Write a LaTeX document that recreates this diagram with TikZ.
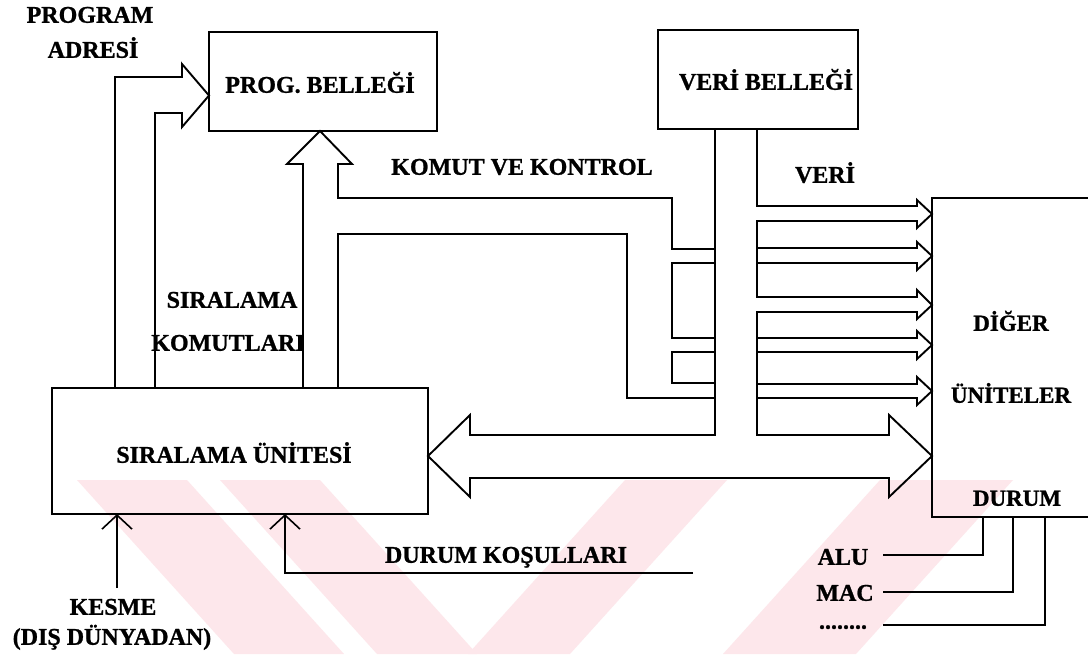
\documentclass[tikz,border=0pt]{standalone}
\usepackage{fontspec}
\setmainfont{Liberation Serif}[BoldFeatures={FakeBold=1}]
\usetikzlibrary{arrows.meta}
\definecolor{wm}{RGB}{253,231,235}
\begin{document}
\begin{tikzpicture}[x=1pt,y=-1pt,line width=1.9pt,line join=miter,
  lbl/.style={font=\bfseries\fontsize{24}{27}\selectfont,inner sep=0pt,text height=15.5pt,text depth=0pt},
  lbs/.style={lbl,font=\bfseries\fontsize{23}{26}\selectfont},
  box/.style={draw,line width=1.9pt,inner sep=0pt},
  barb/.style={-{Straight Barb[length=14pt,width=30pt,line width=1.6pt]}}]
\clip (0,0) rectangle (1088,654);
\fill[white] (0,0) rectangle (1088,654);
% watermark
\fill[wm] (77,480) -- (187,480) -- (344,654) -- (234,654) -- cycle;
\fill[wm] (220,480) -- (320,480) -- (477,654) -- (377,654) -- cycle;
\fill[wm] (625,480) -- (727,480) -- (570,654) -- (468,654) -- cycle;
\fill[wm] (880,480) -- (1013,480) -- (856,654) -- (723,654) -- cycle;
% boxes
\node[box,minimum width=228pt,minimum height=99pt] (prog) at (323,81.5) {};
\node[lbl] (progt) at (320,85) {PROG. BELLEĞİ};
\node[box,minimum width=200pt,minimum height=99pt] (veri) at (758,79.5) {};
\node[lbl] (verit) at (766,82) {VERİ BELLEĞİ};
\node[box,minimum width=376pt,minimum height=126pt] (sira) at (240,451) {};
\node[lbl] (sirat) at (234,455) {SIRALAMA ÜNİTESİ};
\node[box,minimum width=170pt,minimum height=319pt] (diger) at (1017,357.5) {};
\node[lbs] (digert) at (1011,323) {DİĞER};
\node[lbs] (unit) at (1011,395) {ÜNİTELER};
\node[lbs] (durum) at (1017,498) {DURUM};
% labels
\node[lbl] (pa1) at (90,15) {PROGRAM};
\node[lbl] (pa2) at (93,50) {ADRESİ};
\node[lbl] (kk) at (522,167) {KOMUT VE KONTROL};
\node[lbl] (vl) at (825,175) {VERİ};
\node[lbl] (sk1) at (232,300) {SIRALAMA};
\node[lbl] (sk2) at (228,343) {KOMUTLARI};
\node[lbl] (dk) at (506,555) {DURUM KOŞULLARI};
\node[lbl] (k1) at (113,607) {KESME};
\node[lbl] (k2) at (112,637) {(DIŞ DÜNYADAN)};
\node[lbl] (alu) at (843,557) {ALU};
\node[lbl] (mac) at (845,593) {MAC};
\node[lbl] (dots) at (843,621) {........};
% program address arrow
\draw (115,388) -- (115,77) -- (182,77) -- (182,64) -- (209,95.5) -- (182,127) -- (182,113) -- (155,113) -- (155,388);
% sequencing commands arrow into program memory
\draw (303,388) -- (303,164) -- (287,164) -- (320,131) -- (352,164) -- (338,164) -- (338,198) -- (672,198) -- (672,249) -- (715,249);
\draw (338,388) -- (338,234) -- (627,234) -- (627,398) -- (715,398);
\draw (715,263) -- (672,263) -- (672,338) -- (715,338);
\draw (715,352) -- (672,352) -- (672,383) -- (715,383);
% data bus
\draw (715,130) -- (715,435) -- (470,435) -- (470,415) -- (428,456) -- (470,497) -- (470,478)
  -- (889,478) -- (889,497) -- (932,456) -- (889,415) -- (889,435) -- (757,435) -- (757,312)
  -- (917,312) -- (917,319) -- (932,305) -- (917,290) -- (917,297) -- (757,297) -- (757,221)
  -- (917,221) -- (917,228) -- (932,214) -- (917,200) -- (917,206) -- (757,206) -- (757,130);
\draw (757,248) -- (917,248) -- (917,242) -- (932,256) -- (917,270) -- (917,263) -- (757,263);
\draw (757,338) -- (917,338) -- (917,331) -- (932,345) -- (917,359) -- (917,352) -- (757,352);
\draw (757,384) -- (917,384) -- (917,377) -- (932,391) -- (917,405) -- (917,398) -- (757,398);
% interrupt and status
\draw[barb] (117,588) -- (117,514);
\draw[barb] (693,573) -- (285,573) -- (285,514);
\draw (883,555) -- (983,555) -- (983,517);
\draw (883,592) -- (1013,592) -- (1013,517);
\draw (883,625) -- (1045,625) -- (1045,517);
\end{tikzpicture}
\end{document}
